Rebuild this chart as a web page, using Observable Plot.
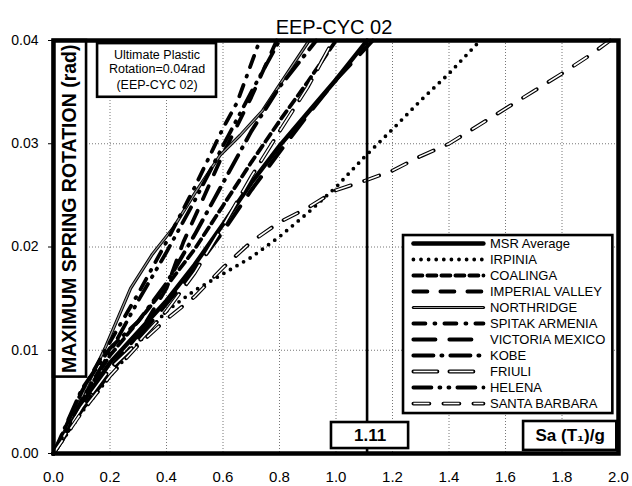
<!DOCTYPE html>
<html>
<head>
<meta charset="utf-8">
<script src="https://cdn.jsdelivr.net/npm/d3@7"></script>
<script src="https://cdn.jsdelivr.net/npm/@observablehq/plot@0.6"></script>
<style>
  html, body { margin: 0; padding: 0; background: #fff; }
  #chart svg { display: block; }
</style>
</head>
<body>
<div id="chart"></div>
<script>
// ---------- data (Sa(T1)/g , max spring rotation rad) ----------
const msrAverage = [[0,0],[0.1,0.0048],[0.2,0.0088],[0.3,0.0118],[0.4,0.0148],[0.5,0.0183],[0.6,0.0222],[0.7,0.0262],[0.8,0.0298],[0.9,0.0330],[1.0,0.0362],[1.11,0.04]];
const irpinia = [[0,0],[0.1,0.004],[0.2,0.0075],[0.3,0.0107],[0.4,0.0138],[0.5,0.0158],[0.6,0.0174],[0.7,0.019],[0.8,0.021],[0.9,0.0233],[1.0,0.0258],[1.1,0.0287],[1.2,0.0314],[1.3,0.0342],[1.4,0.0368],[1.5,0.0397],[1.51,0.04]];
const coalinga = [[0,0],[0.1,0.0052],[0.2,0.0095],[0.3,0.0128],[0.4,0.0162],[0.5,0.0198],[0.6,0.024],[0.7,0.0282],[0.8,0.0322],[0.9,0.036],[1.0,0.04]];
const imperialValley = [[0,0],[0.1,0.0042],[0.2,0.0082],[0.3,0.0115],[0.4,0.016],[0.46,0.0205],[0.51,0.0235],[0.6,0.029],[0.7,0.0345],[0.79,0.04]];
const northridge = [[0,0],[0.1,0.0055],[0.184,0.0103],[0.273,0.016],[0.35,0.0193],[0.425,0.0219],[0.5,0.0252],[0.59,0.0289],[0.66,0.0308],[0.74,0.0332],[0.8,0.0357],[0.905,0.04]];
const spitakArmenia = [[0,0],[0.1,0.006],[0.2,0.0108],[0.3,0.0155],[0.4,0.0205],[0.5,0.0258],[0.6,0.0315],[0.65,0.034],[0.73,0.04]];
const victoriaMexico = [[0,0],[0.1,0.0042],[0.2,0.0078],[0.3,0.0112],[0.4,0.0145],[0.5,0.0178],[0.6,0.0215],[0.7,0.0255],[0.8,0.0292],[0.9,0.0328],[1.0,0.0362],[1.13,0.04]];
const kobe = [[0,0],[0.1,0.0062],[0.2,0.0102],[0.3,0.0128],[0.4,0.0165],[0.5,0.0212],[0.6,0.0262],[0.7,0.0312],[0.8,0.0355],[0.93,0.04]];
const friuli = [[0,0],[0.1,0.0045],[0.2,0.0082],[0.3,0.0108],[0.4,0.0138],[0.5,0.0175],[0.6,0.022],[0.7,0.0268],[0.8,0.0312],[0.9,0.0355],[0.99,0.04]];
const helena = [[0,0],[0.1,0.0052],[0.2,0.0098],[0.3,0.0148],[0.4,0.0195],[0.5,0.0245],[0.6,0.0298],[0.7,0.035],[0.8,0.04]];
const santaBarbara = [[0,0],[0.1,0.004],[0.2,0.0075],[0.3,0.0105],[0.4,0.013],[0.5,0.0152],[0.6,0.018],[0.7,0.0205],[0.8,0.0224],[0.9,0.0238],[1.0,0.0255],[1.1,0.0264],[1.2,0.0274],[1.3,0.0288],[1.4,0.03],[1.5,0.0317],[1.6,0.0334],[1.7,0.0351],[1.8,0.0368],[1.9,0.0386],[1.97,0.04]];

const seriesNames = ["MSR Average","IRPINIA","COALINGA","IMPERIAL VALLEY","NORTHRIDGE","SPITAK ARMENIA","VICTORIA MEXICO","KOBE","FRIULI","HELENA","SANTA BARBARA"];
const seriesData = [msrAverage, irpinia, coalinga, imperialValley, northridge, spitakArmenia, victoriaMexico, kobe, friuli, helena, santaBarbara];

const xTicks = [0,0.2,0.4,0.6,0.8,1.0,1.2,1.4,1.6,1.8,2.0];
const yTicks = [0,0.01,0.02,0.03,0.04];
const titleText = "EEP-CYC 02";
const yLabelText = "MAXIMUM SPRING ROTATION (rad)";
const noteLines = ["Ultimate Plastic","Rotation=0.04rad","(EEP-CYC 02)"];
const markerValue = 1.11;
const xLabelText = "Sa (T\u2081)/g";

// ---------- styles ----------
const styles = {
  "MSR Average":     {w:4.4, dash:null},
  "IRPINIA":         {w:3.8, dash:"0,7.6"},
  "COALINGA":        {w:3.8, dash:"9,5"},
  "IMPERIAL VALLEY": {w:3.8, dash:"14,13"},
  "NORTHRIDGE":      {w:3.2, dash:null, inner:"#9a9a9a", iw:1.2},
  "SPITAK ARMENIA":  {w:3.8, dash:"12,9,1,9"},
  "VICTORIA MEXICO": {w:4.0, dash:"22,14"},
  "KOBE":            {w:4.0, dash:"20,8,1,8"},
  "FRIULI":          {w:3.8, dash:"24,12", inner:"#fff", iw:1.6},
  "HELENA":          {w:3.8, dash:"18,8,1,8,1,8"},
  "SANTA BARBARA":   {w:3.8, dash:"16,14", inner:"#fff", iw:1.6}
};

function seriesMarks(points, name) {
  const s = styles[name];
  const rows = points.map(([x, y]) => ({x, y}));
  const out = [Plot.line(rows, {x:"x", y:"y", stroke:"black", strokeWidth:s.w,
      strokeDasharray:s.dash, strokeLinecap:"round", strokeLinejoin:"round", curve:"linear"})];
  if (s.inner) out.push(Plot.line(rows, {x:"x", y:"y", stroke:s.inner, strokeWidth:s.iw,
      strokeDasharray:s.dash, strokeLinecap:"butt", strokeLinejoin:"round"}));
  return out;
}

// annotation boxes in data space
const yLabelBox = {x1:0, x2:0.117, y1:0.0074, y2:0.04};
const noteBox = {x1:0.156, x2:0.577, y1:0.0345, y2:0.0397};
const noteLineY = [0.03855, 0.0372, 0.0357];
const markerBox = {x1:0.984, x2:1.257, y1:0.00048, y2:0.0030};
const xLabelBox = {x1:1.664, x2:1.994, y1:0.0003, y2:0.0031};
const legendBox = {x1:1.239, x2:1.98, y1:0.00387, y2:0.02111};
const legendTop = 0.02034, legendStep = 0.00155;
const legendX = [1.274, 1.522], legendTextX = 1.545;

const marks = [];
// grid
marks.push(Plot.gridX(xTicks.slice(1,-1), {stroke:"#777", strokeOpacity:1, strokeDasharray:"1,2", strokeWidth:1}));
marks.push(Plot.gridY(yTicks.slice(1,-1), {stroke:"#777", strokeOpacity:1, strokeDasharray:"1,2", strokeWidth:1}));
// axes
marks.push(Plot.axisX(xTicks, {tickSize:0, tickPadding:18, fontSize:15, tickFormat:d=>d.toFixed(1)}));
marks.push(Plot.axisY(yTicks, {tickSize:5, tickPadding:10, fontSize:14, tickFormat:d=>d.toFixed(2)}));
// series
seriesNames.forEach((n, i) => marks.push(...seriesMarks(seriesData[i], n)));
// marker line at 1.11
marks.push(Plot.ruleX([markerValue], {y1:0, y2:0.04, stroke:"black", strokeWidth:2.6}));
// boxes
const boxes = [yLabelBox, noteBox, markerBox, xLabelBox];
marks.push(Plot.rect(boxes, {x1:"x1", x2:"x2", y1:"y1", y2:"y2", fill:"white", stroke:"black", strokeWidth:2.6}));
marks.push(Plot.rect([legendBox], {x1:"x1", x2:"x2", y1:"y1", y2:"y2", fill:"white", stroke:"black", strokeWidth:2.6}));
// legend samples
seriesNames.forEach((n, i) => {
  const y = legendTop - i * legendStep;
  marks.push(...seriesMarks([[legendX[0], y], [legendX[1], y]], n));
});
marks.push(Plot.text(seriesNames, {x:legendTextX, y:(d, i) => legendTop - i * legendStep, text:d=>d,
  textAnchor:"start", fontSize:13, fill:"black"}));
// texts
marks.push(Plot.text([yLabelText], {x:(yLabelBox.x1+yLabelBox.x2)/2, y:(yLabelBox.y1+yLabelBox.y2)/2, text:d=>d,
  rotate:-90, fontSize:19.5, fontWeight:"bold", fill:"black"}));
marks.push(Plot.text(noteLines, {x:(noteBox.x1+noteBox.x2)/2, y:(d,i)=>noteLineY[i], text:d=>d, fontSize:12.5, fill:"black"}));
marks.push(Plot.text([markerValue.toFixed(2)], {x:(markerBox.x1+markerBox.x2)/2, y:(markerBox.y1+markerBox.y2)/2, text:d=>d,
  fontSize:17, fontWeight:"bold", fill:"black"}));
marks.push(Plot.text([xLabelText], {x:(xLabelBox.x1+xLabelBox.x2)/2, y:(xLabelBox.y1+xLabelBox.y2)/2, text:d=>d,
  fontSize:17, fontWeight:"bold", fill:"black"}));
// title
marks.push(Plot.text([titleText], {frameAnchor:"top", dx:-2, dy:-21, text:d=>d, fontSize:20, fill:"black"}));
// frame
marks.push(Plot.frame({stroke:"black", strokeWidth:4.5}));

const chart = Plot.plot({
  width:632, height:486,
  marginLeft:53, marginRight:14, marginTop:40, marginBottom:33,
  x:{domain:[0,2]},
  y:{domain:[0,0.04]},
  style:{fontFamily:"'Liberation Sans', Arial, sans-serif", background:"white", color:"black", overflow:"visible"},
  marks
});
document.getElementById("chart").appendChild(chart);
</script>
</body>
</html>
